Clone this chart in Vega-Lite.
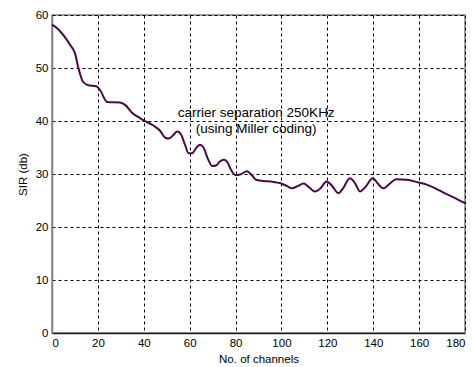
{
  "$schema": "https://vega.github.io/schema/vega-lite/v6.json",
  "width": 413,
  "height": 318,
  "autosize": {"type": "none"},
  "padding": {"left": 52, "top": 15, "right": 7, "bottom": 34},
  "background": "white",
  "config": {
    "view": {"stroke": "#808080", "strokeWidth": 1.5},
    "font": "Liberation Sans",
    "axis": {
      "labelFont": "Liberation Sans",
      "titleFont": "Liberation Sans",
      "labelFontSize": 11.5,
      "titleFontSize": 11.5,
      "titleFontWeight": "normal",
      "labelColor": "#000",
      "titleColor": "#000",
      "grid": true,
      "gridColor": "#000",
      "gridDash": [3, 3],
      "gridWidth": 1,
      "gridOpacity": 1,
      "ticks": false
    }
  },
  "layer": [
    {
      "data": {
        "values": [
          {"ch": 0, "sir": 58.2}, {"ch": 2, "sir": 57.6}, {"ch": 4, "sir": 56.7}, {"ch": 6, "sir": 55.6},
          {"ch": 8, "sir": 54.3}, {"ch": 10, "sir": 52.8}, {"ch": 11.5, "sir": 50.0}, {"ch": 13.5, "sir": 47.4},
          {"ch": 15.5, "sir": 46.8}, {"ch": 19.5, "sir": 46.5}, {"ch": 21, "sir": 45.8}, {"ch": 24, "sir": 43.6},
          {"ch": 29.5, "sir": 43.5}, {"ch": 32, "sir": 43.0}, {"ch": 35, "sir": 41.5}, {"ch": 38.5, "sir": 40.5},
          {"ch": 40, "sir": 40.1}, {"ch": 44, "sir": 39.2}, {"ch": 47, "sir": 38.2}, {"ch": 49.5, "sir": 36.8},
          {"ch": 51, "sir": 36.7}, {"ch": 53, "sir": 37.4}, {"ch": 54.5, "sir": 38.0}, {"ch": 56, "sir": 37.6},
          {"ch": 58, "sir": 35.5}, {"ch": 59.5, "sir": 33.9}, {"ch": 61, "sir": 33.9}, {"ch": 63, "sir": 35.0},
          {"ch": 64.5, "sir": 35.5}, {"ch": 66, "sir": 35.0}, {"ch": 68, "sir": 32.8}, {"ch": 69.8, "sir": 31.5},
          {"ch": 71.5, "sir": 31.6}, {"ch": 73, "sir": 32.3}, {"ch": 75, "sir": 32.7}, {"ch": 76.5, "sir": 32.2},
          {"ch": 78, "sir": 30.8}, {"ch": 80, "sir": 29.8}, {"ch": 82, "sir": 29.9}, {"ch": 85, "sir": 30.5},
          {"ch": 87, "sir": 29.8}, {"ch": 89, "sir": 28.9}, {"ch": 92, "sir": 28.7}, {"ch": 96.5, "sir": 28.5},
          {"ch": 100, "sir": 28.2}, {"ch": 102.5, "sir": 27.7}, {"ch": 104.5, "sir": 27.3}, {"ch": 107, "sir": 27.7},
          {"ch": 109.6, "sir": 28.2}, {"ch": 112, "sir": 27.5}, {"ch": 114.6, "sir": 26.7}, {"ch": 117, "sir": 27.3},
          {"ch": 119.7, "sir": 28.6}, {"ch": 122, "sir": 27.8}, {"ch": 124.8, "sir": 26.4}, {"ch": 127, "sir": 27.4},
          {"ch": 129.8, "sir": 29.2}, {"ch": 132, "sir": 28.3}, {"ch": 134.3, "sir": 26.7}, {"ch": 136.5, "sir": 27.5},
          {"ch": 139.8, "sir": 29.2}, {"ch": 142, "sir": 28.2}, {"ch": 144.4, "sir": 27.3}, {"ch": 147.3, "sir": 28.2},
          {"ch": 150, "sir": 29.0}, {"ch": 154.6, "sir": 28.9}, {"ch": 159.7, "sir": 28.4}, {"ch": 163.3, "sir": 28.0},
          {"ch": 167, "sir": 27.3}, {"ch": 170.6, "sir": 26.5}, {"ch": 175, "sir": 25.6}, {"ch": 180, "sir": 24.5}
        ]
      },
      "mark": {"type": "line", "color": "#4a0a4a", "strokeWidth": 2, "interpolate": "monotone"},
      "encoding": {
        "x": {
          "field": "ch", "type": "quantitative",
          "scale": {"domain": [0, 180], "nice": false},
          "axis": {
            "title": "No. of channels",
            "values": [0, 20, 40, 60, 80, 100, 120, 140, 160, 180],
            "labelPadding": 4, "titlePadding": 5,
            "domainColor": "#202020", "domainWidth": 1.5
          }
        },
        "y": {
          "field": "sir", "type": "quantitative",
          "scale": {"domain": [0, 60], "nice": false},
          "axis": {
            "title": "SIR (db)",
            "values": [0, 10, 20, 30, 40, 50, 60],
            "labelPadding": 4, "titlePadding": 7,
            "domainColor": "#808080", "domainWidth": 1.5
          }
        }
      }
    },
    {
      "data": {
        "values": [
          {"ch": 89, "sir": 41.5, "label": "carrier separation 250KHz"},
          {"ch": 89, "sir": 38.5, "label": "(using Miller coding)"}
        ]
      },
      "mark": {"type": "text", "font": "Liberation Sans", "fontSize": 13.5, "color": "#000", "align": "center", "baseline": "middle"},
      "encoding": {
        "x": {"field": "ch", "type": "quantitative"},
        "y": {"field": "sir", "type": "quantitative"},
        "text": {"field": "label"}
      }
    }
  ]
}
